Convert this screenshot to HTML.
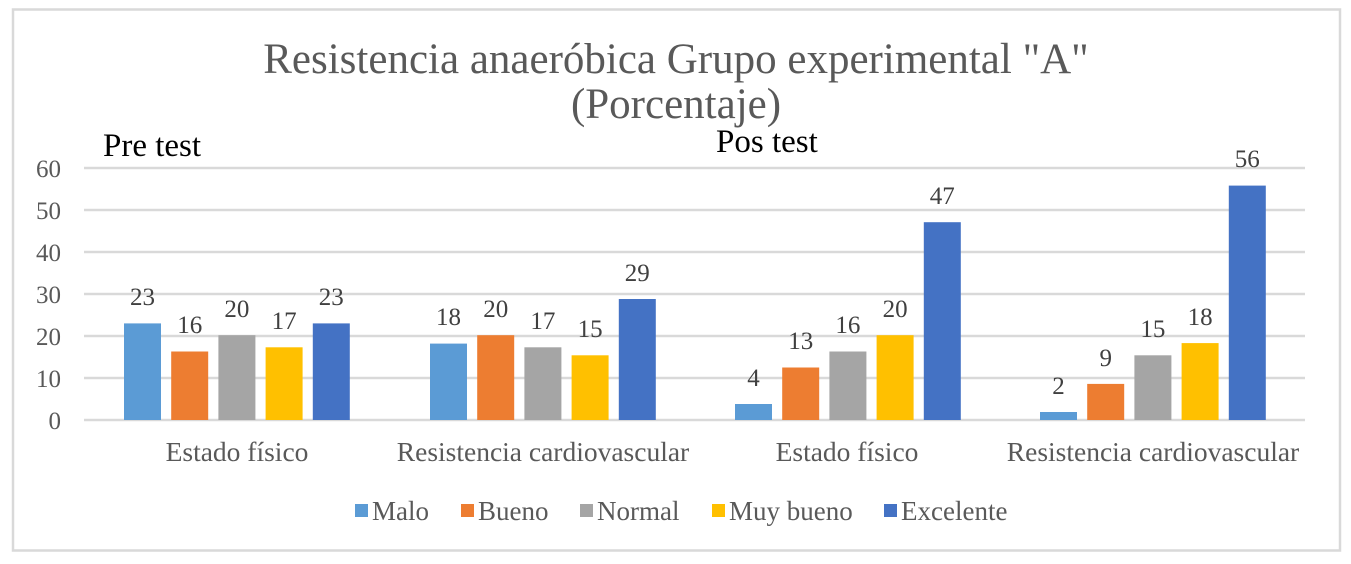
<!DOCTYPE html>
<html><head><meta charset="utf-8"><style>
body{margin:0;background:#fff;width:1351px;height:559px;overflow:hidden}
svg text{font-family:"Liberation Serif",serif}
</style></head><body>
<svg width="1351" height="559" xmlns="http://www.w3.org/2000/svg">
<rect x="13" y="9.5" width="1327" height="541" fill="#fff" stroke="#d9d9d9" stroke-width="2.5"/>
<text x="676" y="73" font-size="43" fill="#595959" text-anchor="middle">Resistencia anaeróbica Grupo experimental "A"</text>
<text x="676" y="118" font-size="43" fill="#595959" text-anchor="middle">(Porcentaje)</text>
<text x="103" y="156" font-size="33" fill="#000">Pre test</text>
<text x="716" y="152" font-size="33" fill="#000">Pos test</text>
<g stroke="#d9d9d9" stroke-width="2.5">
<line x1="84" x2="1305" y1="168" y2="168"/><line x1="84" x2="1305" y1="210" y2="210"/>
<line x1="84" x2="1305" y1="252" y2="252"/><line x1="84" x2="1305" y1="294" y2="294"/>
<line x1="84" x2="1305" y1="336" y2="336"/><line x1="84" x2="1305" y1="378" y2="378"/>
<line x1="84" x2="1305" y1="420" y2="420"/>
</g>
<g font-size="25" fill="#595959" text-anchor="end">
<text x="61" y="177">60</text><text x="61" y="219">50</text><text x="61" y="261">40</text>
<text x="61" y="303">30</text><text x="61" y="345">20</text><text x="61" y="387">10</text><text x="61" y="429">0</text>
</g>
<g>
<rect x="124" y="323.4" width="37" height="96.6" fill="#5b9bd5"/>
<rect x="171.2" y="351.5" width="37" height="68.5" fill="#ed7d31"/>
<rect x="218.4" y="335.2" width="37" height="84.8" fill="#a5a5a5"/>
<rect x="265.6" y="347.3" width="37" height="72.7" fill="#ffc000"/>
<rect x="312.8" y="323.4" width="37" height="96.6" fill="#4472c4"/>
<rect x="430" y="343.6" width="37" height="76.4" fill="#5b9bd5"/>
<rect x="477.2" y="335.2" width="37" height="84.8" fill="#ed7d31"/>
<rect x="524.4" y="347.3" width="37" height="72.7" fill="#a5a5a5"/>
<rect x="571.6" y="355.3" width="37" height="64.7" fill="#ffc000"/>
<rect x="618.8" y="299" width="37" height="121" fill="#4472c4"/>
<rect x="735" y="404" width="37" height="16" fill="#5b9bd5"/>
<rect x="782.2" y="367.5" width="37" height="52.5" fill="#ed7d31"/>
<rect x="829.4" y="351.5" width="37" height="68.5" fill="#a5a5a5"/>
<rect x="876.6" y="335.2" width="37" height="84.8" fill="#ffc000"/>
<rect x="923.8" y="222.2" width="37" height="197.8" fill="#4472c4"/>
<rect x="1040" y="412" width="37" height="8" fill="#5b9bd5"/>
<rect x="1087.2" y="383.9" width="37" height="36.1" fill="#ed7d31"/>
<rect x="1134.4" y="355.3" width="37" height="64.7" fill="#a5a5a5"/>
<rect x="1181.6" y="343.1" width="37" height="76.9" fill="#ffc000"/>
<rect x="1228.8" y="185.6" width="37" height="234.4" fill="#4472c4"/>
</g>
<g font-size="25" fill="#404040" text-anchor="middle">
<text x="142.5" y="305">23</text><text x="189.7" y="333">16</text><text x="236.9" y="317">20</text><text x="284.1" y="329">17</text><text x="331.3" y="305">23</text>
<text x="448.5" y="325">18</text><text x="495.7" y="317">20</text><text x="542.9" y="329">17</text><text x="590.1" y="337">15</text><text x="637.3" y="281">29</text>
<text x="753.5" y="386">4</text><text x="800.7" y="349">13</text><text x="847.9" y="333">16</text><text x="895.1" y="317">20</text><text x="942.3" y="204">47</text>
<text x="1058.5" y="394">2</text><text x="1105.7" y="366">9</text><text x="1152.9" y="337">15</text><text x="1200.1" y="325">18</text><text x="1247.3" y="167">56</text>
</g>
<g font-size="27.5" fill="#595959" text-anchor="middle">
<text x="237" y="461">Estado físico</text>
<text x="543" y="461">Resistencia cardiovascular</text>
<text x="847" y="461">Estado físico</text>
<text x="1153" y="461">Resistencia cardiovascular</text>
</g>
<g font-size="27" fill="#595959">
<rect x="355" y="504" width="13" height="13" fill="#5b9bd5"/><text x="372" y="520">Malo</text>
<rect x="461" y="504" width="13" height="13" fill="#ed7d31"/><text x="478" y="520">Bueno</text>
<rect x="580" y="504" width="13" height="13" fill="#a5a5a5"/><text x="597" y="520">Normal</text>
<rect x="712" y="504" width="13" height="13" fill="#ffc000"/><text x="729" y="520">Muy bueno</text>
<rect x="884" y="504" width="13" height="13" fill="#4472c4"/><text x="901" y="520">Excelente</text>
</g>
</svg>
</body></html>
